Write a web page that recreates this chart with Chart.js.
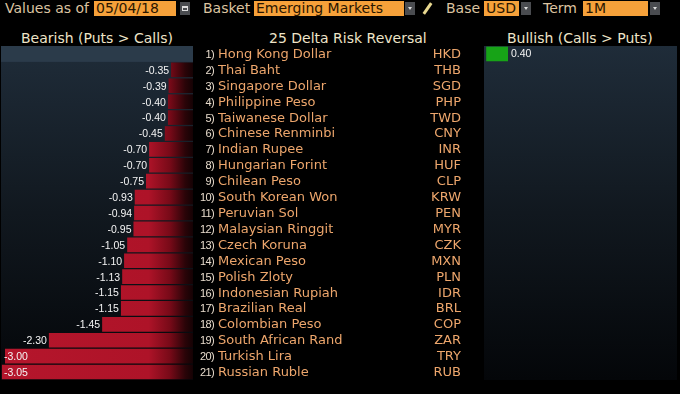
<!DOCTYPE html>
<html>
<head>
<meta charset="utf-8">
<script src="https://cdn.jsdelivr.net/npm/chart.js@4.4.1/dist/chart.umd.min.js"></script>
<style>
body { margin:0; background:#000; width:680px; height:394px; overflow:hidden; position:relative; font-family:"DejaVu Sans", sans-serif; }
.t { position:absolute; white-space:nowrap; }
.lbl { color:#dcc3a0; font-size:14px; top:0px; line-height:16px; }
.box { position:absolute; top:1px; height:15px; background:#f6a13a; color:#2a1600; font-size:14px; line-height:15px; padding-left:2px; box-sizing:border-box; }
.arr { position:absolute; top:2px; height:13px; width:10px; background:#4a4c50; }
.arr:after { content:""; position:absolute; left:3px; top:5px; border-left:2px solid transparent; border-right:2px solid transparent; border-top:3px solid #ddd; }
.hdr { color:#eee4c8; font-size:14px; top:30px; line-height:16px; }
.num { color:#e8dccd; font-size:11px; font-family:"Liberation Sans", sans-serif; letter-spacing:-0.6px; text-align:right; width:30px; }
.name { color:#eda66c; font-size:13px; }
.code { color:#eda66c; font-size:13px; text-align:right; width:50px; }
#bearWrap { position:absolute; left:0px; top:46px; }
#bullWrap { position:absolute; left:484px; top:46px; }
</style>
</head>
<body>

<div class="t lbl" style="left:5px">Values as of</div>
<div class="box" style="left:94px;width:82px">05/04/18</div>
<div class="t" style="left:180px;top:2px;width:10px;height:13px;background:#4a4c50">
  <div style="position:absolute;left:2px;top:4px;width:6px;height:5px;border:1px solid #ddd;box-sizing:border-box;border-top-width:2px"></div>
</div>
<div class="t lbl" style="left:203px">Basket</div>
<div class="box" style="left:254px;width:150px">Emerging Markets</div>
<div class="arr" style="left:405px"></div>
<div class="t" style="left:426px;top:2px;width:3px;height:13px;background:#e8d890;transform:rotate(35deg)"></div>
<div class="t lbl" style="left:446px">Base</div>
<div class="box" style="left:484px;width:35px">USD</div>
<div class="arr" style="left:521px"></div>
<div class="t lbl" style="left:543px">Term</div>
<div class="box" style="left:583px;width:65px">1M</div>
<div class="arr" style="left:650px"></div>

<div class="t hdr" style="left:21px">Bearish (Puts &gt; Calls)</div>
<div class="t hdr" style="left:269px">25 Delta Risk Reversal</div>
<div class="t hdr" style="left:507px">Bullish (Calls &gt; Puts)</div>

<div id="bearWrap"><canvas id="bear" width="193" height="334"></canvas></div>
<div id="bullWrap"><canvas id="bull" width="193" height="334"></canvas></div>
<div id="list"></div>

<script>
const currencies = ["Hong Kong Dollar", "Thai Baht", "Singapore Dollar", "Philippine Peso", "Taiwanese Dollar",
  "Chinese Renminbi", "Indian Rupee", "Hungarian Forint", "Chilean Peso", "South Korean Won", "Peruvian Sol",
  "Malaysian Ringgit", "Czech Koruna", "Mexican Peso", "Polish Zloty", "Indonesian Rupiah", "Brazilian Real",
  "Colombian Peso", "South African Rand", "Turkish Lira", "Russian Ruble"];
const codes = ["HKD", "THB", "SGD", "PHP", "TWD", "CNY", "INR", "HUF", "CLP", "KRW", "PEN",
  "MYR", "CZK", "MXN", "PLN", "IDR", "BRL", "COP", "ZAR", "TRY", "RUB"];
const riskReversal = [0.40, -0.35, -0.39, -0.40, -0.40, -0.45, -0.70, -0.70, -0.75, -0.93, -0.94,
  -0.95, -1.05, -1.10, -1.13, -1.15, -1.15, -1.45, -2.30, -3.00, -3.05];

const bearish = riskReversal.map(v => v < 0 ? v : null);
const bullish = riskReversal.map(v => v > 0 ? v : null);

// panel background, drawn under the bars
const panelBg = {
  id: 'panelBg',
  beforeDatasetsDraw(chart, args, opts) {
    const a = chart.chartArea, c = chart.ctx;
    const g = c.createLinearGradient(0, a.top, 0, a.bottom);
    g.addColorStop(0, '#1f2c39');
    g.addColorStop(0.5, '#11181f');
    g.addColorStop(1, '#040609');
    c.save();
    c.fillStyle = g;
    c.fillRect(a.left + opts.inset, a.top, a.right - a.left - opts.inset, a.bottom - a.top);
    if (opts.firstRow) {
      const y0 = chart.scales.y.getPixelForValue(0);
      const h = (a.bottom - a.top) / riskReversal.length;
      c.fillStyle = '#2b3b4a';
      c.fillRect(a.left + opts.inset, y0 - h / 2, a.right - a.left - opts.inset, h);
    }
    c.restore();
  }
};

// value text next to each bar
const valueText = {
  id: 'valueText',
  afterDatasetsDraw(chart) {
    const c = chart.ctx, a = chart.chartArea;
    const meta = chart.getDatasetMeta(0);
    const data = chart.data.datasets[0].data;
    c.save();
    c.font = '10.5px "Liberation Sans", sans-serif';
    c.fillStyle = '#f4f4f4';
    c.textBaseline = 'middle';
    meta.data.forEach((bar, i) => {
      if (data[i] == null) return;
      const txt = data[i].toFixed(2);
      if (data[i] < 0) {
        if (bar.x - a.left < 30) {
          c.textAlign = 'left';
          c.fillText(txt, a.left + 4, bar.y + 1);
        } else {
          c.textAlign = 'right';
          c.fillText(txt, bar.x - 2, bar.y + 1);
        }
      } else {
        c.textAlign = 'left';
        c.fillText(txt, bar.x + 3, bar.y);
      }
    });
    c.restore();
  }
};

function redFill(ctx) {
  const a = ctx.chart.chartArea;
  if (!a) return '#b0142a';
  const g = ctx.chart.ctx.createLinearGradient(a.left, 0, a.right, 0);
  g.addColorStop(0, '#b5162c');
  g.addColorStop(0.77, '#ae1328');
  g.addColorStop(0.88, '#780a18');
  g.addColorStop(0.96, '#2a0408');
  g.addColorStop(1, '#140204');
  return g;
}

function baseOptions(min, max, firstRow, inset) {
  return {
    indexAxis: 'y',
    responsive: false,
    animation: false,
    layout: { padding: 0 },
    scales: {
      x: { min: min, max: max, display: false },
      y: { display: false }
    },
    plugins: { legend: { display: false }, tooltip: { enabled: false }, panelBg: { firstRow: firstRow, inset: inset } }
  };
}

const bear = new Chart(document.getElementById('bear'), {
  type: 'bar',
  data: { labels: codes, datasets: [{ data: bearish, backgroundColor: redFill, barPercentage: 1, categoryPercentage: 0.92 }] },
  options: baseOptions(-3.08, 0, true, 1),
  plugins: [panelBg, valueText]
});

const bull = new Chart(document.getElementById('bull'), {
  type: 'bar',
  data: { labels: codes, datasets: [{ data: bullish, backgroundColor: '#17a317', barPercentage: 1, categoryPercentage: 0.92 }] },
  options: baseOptions(-0.04, 3.5, false, 0),
  plugins: [panelBg, valueText]
});

// middle list, placed on the rows of the bar scale
const list = document.getElementById('list');
currencies.forEach((name, i) => {
  const y = 46 + bear.scales.y.getPixelForValue(i) - 8;
  const row = [
    ['num', 184, (i + 1) + ')'],
    ['name', 218, name],
    ['code', 411, codes[i]]
  ];
  row.forEach(([cls, x, txt]) => {
    const d = document.createElement('div');
    d.className = 't ' + cls;
    d.style.left = x + 'px';
    d.style.top = y + 'px';
    d.style.lineHeight = '16px';
    d.textContent = txt;
    list.appendChild(d);
  });
});
</script>
</body>
</html>
